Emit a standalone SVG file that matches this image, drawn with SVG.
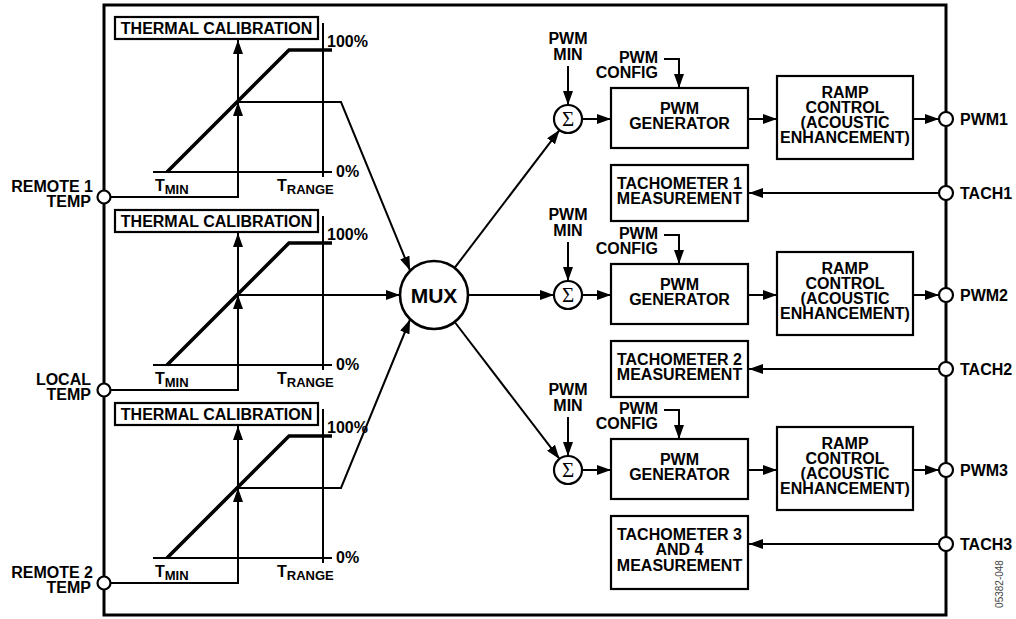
<svg xmlns="http://www.w3.org/2000/svg" width="1016" height="619" viewBox="0 0 1016 619">
<defs>
<style>
text { font-family: "Liberation Sans", Arial, sans-serif; font-weight: bold; font-size: 16px; fill: #000; }
.c { text-anchor: middle; }
.e { text-anchor: end; }
.box { fill: #fff; stroke: #000; stroke-width: 2.2; }
.ln { fill: none; stroke: #000; stroke-width: 2; }
.thick { fill: none; stroke: #000; stroke-width: 3.6; }
.pin { fill: #fff; stroke: #000; stroke-width: 2.2; }
.sub { font-size: 13px; }
.sig { font-family: "Liberation Serif", "Times New Roman", serif; font-weight: normal; font-size: 21px; }
.mux { font-size: 21px; }
.id { font-weight: normal; font-size: 10px; fill: #444; }
</style>
<marker id="ah" viewBox="0 0 14 10" refX="14" refY="5" markerWidth="14" markerHeight="10" markerUnits="userSpaceOnUse" orient="auto">
<path d="M0,0 L14,5 L0,10 z" fill="#000"/>
</marker>
</defs>
<rect width="1016" height="619" fill="#fff"/>
<g id="border"><rect x="104" y="5" width="842" height="610" fill="none" stroke="#000" stroke-width="3"/></g>

<g id="connectors">
  <polyline class="ln" points="110.5,197 238,197 238,102" marker-end="url(#ah)"/>
  <line class="ln" x1="238" y1="102" x2="238" y2="40" marker-end="url(#ah)"/>
  <polyline class="ln" points="238,102 341,102 410.1,270.5" marker-end="url(#ah)"/>
  <polyline class="ln" points="110.5,390 238,390 238,295" marker-end="url(#ah)"/>
  <line class="ln" x1="238" y1="295" x2="238" y2="233" marker-end="url(#ah)"/>
  <line class="ln" x1="238" y1="295" x2="400" y2="295" marker-end="url(#ah)"/>
  <polyline class="ln" points="110.5,583 238,583 238,488" marker-end="url(#ah)"/>
  <line class="ln" x1="238" y1="488" x2="238" y2="426" marker-end="url(#ah)"/>
  <polyline class="ln" points="238,488 341,488 410.1,319.5" marker-end="url(#ah)"/>
  <line class="ln" x1="454.6" y1="267.9" x2="559.5" y2="130.1" marker-end="url(#ah)"/>
  <line class="ln" x1="468" y1="295" x2="554" y2="295" marker-end="url(#ah)"/>
  <line class="ln" x1="454.7" y1="322" x2="559.5" y2="458.9" marker-end="url(#ah)"/>
  <line class="ln" x1="568" y1="66" x2="568" y2="105" marker-end="url(#ah)"/>
  <polyline class="ln" points="664,59 679,59 679,88" marker-end="url(#ah)"/>
  <line class="ln" x1="582" y1="119" x2="611" y2="119" marker-end="url(#ah)"/>
  <line class="ln" x1="748" y1="119" x2="777" y2="119" marker-end="url(#ah)"/>
  <line class="ln" x1="913" y1="119" x2="939" y2="119" marker-end="url(#ah)"/>
  <line class="ln" x1="939" y1="193" x2="749" y2="193" marker-end="url(#ah)"/>
  <line class="ln" x1="568" y1="242" x2="568" y2="281" marker-end="url(#ah)"/>
  <polyline class="ln" points="664,235 679,235 679,264" marker-end="url(#ah)"/>
  <line class="ln" x1="582" y1="295" x2="611" y2="295" marker-end="url(#ah)"/>
  <line class="ln" x1="748" y1="295" x2="777" y2="295" marker-end="url(#ah)"/>
  <line class="ln" x1="913" y1="295" x2="939" y2="295" marker-end="url(#ah)"/>
  <line class="ln" x1="939" y1="369" x2="749" y2="369" marker-end="url(#ah)"/>
  <line class="ln" x1="568" y1="417" x2="568" y2="456" marker-end="url(#ah)"/>
  <polyline class="ln" points="664,410 679,410 679,439" marker-end="url(#ah)"/>
  <line class="ln" x1="582" y1="470" x2="611" y2="470" marker-end="url(#ah)"/>
  <line class="ln" x1="748" y1="470" x2="777" y2="470" marker-end="url(#ah)"/>
  <line class="ln" x1="913" y1="470" x2="939" y2="470" marker-end="url(#ah)"/>
  <line class="ln" x1="939" y1="544" x2="749" y2="544" marker-end="url(#ah)"/>
</g>

<g id="thermal1">
  <rect class="box" x="115" y="17" width="203" height="22"/>
  <text class="c" x="216.5" y="34">THERMAL CALIBRATION</text>
  <line class="ln" x1="323" y1="23" x2="323" y2="177"/>
  <line class="ln" x1="153" y1="172" x2="332" y2="172"/>
  <polyline class="thick" points="167,172 289,50 332,50"/>
  <text x="327" y="47">100%</text>
  <text x="336" y="177">0%</text>
  <text x="155" y="191">T<tspan class="sub" dy="2.5">MIN</tspan></text>
  <text x="277" y="191">T<tspan class="sub" dy="2.5">RANGE</tspan></text>
</g>
<g id="thermal2">
  <rect class="box" x="115" y="210" width="203" height="22"/>
  <text class="c" x="216.5" y="227">THERMAL CALIBRATION</text>
  <line class="ln" x1="323" y1="216" x2="323" y2="370"/>
  <line class="ln" x1="153" y1="365" x2="332" y2="365"/>
  <polyline class="thick" points="167,365 289,243 332,243"/>
  <text x="327" y="240">100%</text>
  <text x="336" y="370">0%</text>
  <text x="155" y="384">T<tspan class="sub" dy="2.5">MIN</tspan></text>
  <text x="277" y="384">T<tspan class="sub" dy="2.5">RANGE</tspan></text>
</g>
<g id="thermal3">
  <rect class="box" x="115" y="403" width="203" height="22"/>
  <text class="c" x="216.5" y="420">THERMAL CALIBRATION</text>
  <line class="ln" x1="323" y1="409" x2="323" y2="563"/>
  <line class="ln" x1="153" y1="558" x2="332" y2="558"/>
  <polyline class="thick" points="167,558 289,436 332,436"/>
  <text x="327" y="433">100%</text>
  <text x="336" y="563">0%</text>
  <text x="155" y="577">T<tspan class="sub" dy="2.5">MIN</tspan></text>
  <text x="277" y="577">T<tspan class="sub" dy="2.5">RANGE</tspan></text>
</g>

<g id="remote1">
  <circle class="pin" cx="104" cy="197" r="6.5"/>
  <text class="e" x="93" y="192">REMOTE 1</text>
  <text class="e" x="91" y="207">TEMP</text>
</g>
<g id="local">
  <circle class="pin" cx="104" cy="390" r="6.5"/>
  <text class="e" x="91" y="385">LOCAL</text>
  <text class="e" x="91" y="400">TEMP</text>
</g>
<g id="remote2">
  <circle class="pin" cx="104" cy="583" r="6.5"/>
  <text class="e" x="93" y="578">REMOTE 2</text>
  <text class="e" x="91" y="593">TEMP</text>
</g>

<g id="mux">
  <circle cx="434" cy="295" r="34" fill="#fff" stroke="#000" stroke-width="2.6"/>
  <text class="c mux" x="434" y="302.5">MUX</text>
</g>

<g id="pwmmin1"><text class="c" x="568" y="44">PWM</text><text class="c" x="568" y="60">MIN</text></g>
<g id="pwmmin2"><text class="c" x="568" y="220">PWM</text><text class="c" x="568" y="236">MIN</text></g>
<g id="pwmmin3"><text class="c" x="568" y="395">PWM</text><text class="c" x="568" y="411">MIN</text></g>

<g id="sum1"><circle class="pin" cx="568" cy="119" r="14"/><text class="c sig" x="568" y="126">Σ</text></g>
<g id="sum2"><circle class="pin" cx="568" cy="295" r="14"/><text class="c sig" x="568" y="302">Σ</text></g>
<g id="sum3"><circle class="pin" cx="568" cy="470" r="14"/><text class="c sig" x="568" y="477">Σ</text></g>

<g id="pwmconfig1"><text class="e" x="658" y="63">PWM</text><text class="e" x="658" y="78">CONFIG</text></g>
<g id="pwmconfig2"><text class="e" x="658" y="239">PWM</text><text class="e" x="658" y="254">CONFIG</text></g>
<g id="pwmconfig3"><text class="e" x="658" y="414">PWM</text><text class="e" x="658" y="429">CONFIG</text></g>

<g id="pwmgen1"><rect class="box" x="611" y="88" width="137" height="60"/><text class="c" x="679.5" y="114">PWM</text><text class="c" x="679.5" y="129">GENERATOR</text></g>
<g id="pwmgen2"><rect class="box" x="611" y="264" width="137" height="60"/><text class="c" x="679.5" y="290">PWM</text><text class="c" x="679.5" y="305">GENERATOR</text></g>
<g id="pwmgen3"><rect class="box" x="611" y="439" width="137" height="60"/><text class="c" x="679.5" y="465">PWM</text><text class="c" x="679.5" y="480">GENERATOR</text></g>

<g id="ramp1"><rect class="box" x="777" y="76" width="136" height="83"/>
  <text class="c" x="845" y="98">RAMP</text><text class="c" x="845" y="113">CONTROL</text><text class="c" x="845" y="128">(ACOUSTIC</text><text class="c" x="845" y="143">ENHANCEMENT)</text></g>
<g id="ramp2"><rect class="box" x="777" y="252" width="136" height="83"/>
  <text class="c" x="845" y="274">RAMP</text><text class="c" x="845" y="289">CONTROL</text><text class="c" x="845" y="304">(ACOUSTIC</text><text class="c" x="845" y="319">ENHANCEMENT)</text></g>
<g id="ramp3"><rect class="box" x="777" y="427" width="136" height="83"/>
  <text class="c" x="845" y="449">RAMP</text><text class="c" x="845" y="464">CONTROL</text><text class="c" x="845" y="479">(ACOUSTIC</text><text class="c" x="845" y="494">ENHANCEMENT)</text></g>

<g id="tach1box"><rect class="box" x="611" y="165" width="137" height="56"/><text class="c" x="679.5" y="189">TACHOMETER 1</text><text class="c" x="679.5" y="204">MEASUREMENT</text></g>
<g id="tach2box"><rect class="box" x="611" y="341" width="137" height="56"/><text class="c" x="679.5" y="365">TACHOMETER 2</text><text class="c" x="679.5" y="380">MEASUREMENT</text></g>
<g id="tach34box"><rect class="box" x="611" y="516" width="137" height="73"/><text class="c" x="679.5" y="540">TACHOMETER 3</text><text class="c" x="679.5" y="555">AND 4</text><text class="c" x="679.5" y="571">MEASUREMENT</text></g>

<g id="pwm1"><circle class="pin" cx="946" cy="119" r="7"/><text x="960" y="125">PWM1</text></g>
<g id="tach1"><circle class="pin" cx="946" cy="193" r="7"/><text x="960" y="199">TACH1</text></g>
<g id="pwm2"><circle class="pin" cx="946" cy="295" r="7"/><text x="960" y="301">PWM2</text></g>
<g id="tach2"><circle class="pin" cx="946" cy="369" r="7"/><text x="960" y="375">TACH2</text></g>
<g id="pwm3"><circle class="pin" cx="946" cy="470" r="7"/><text x="960" y="476">PWM3</text></g>
<g id="tach3"><circle class="pin" cx="946" cy="544" r="7"/><text x="960" y="550">TACH3</text></g>

<text class="c id" transform="translate(1003,584) rotate(-90)">05382-048</text>
</svg>
